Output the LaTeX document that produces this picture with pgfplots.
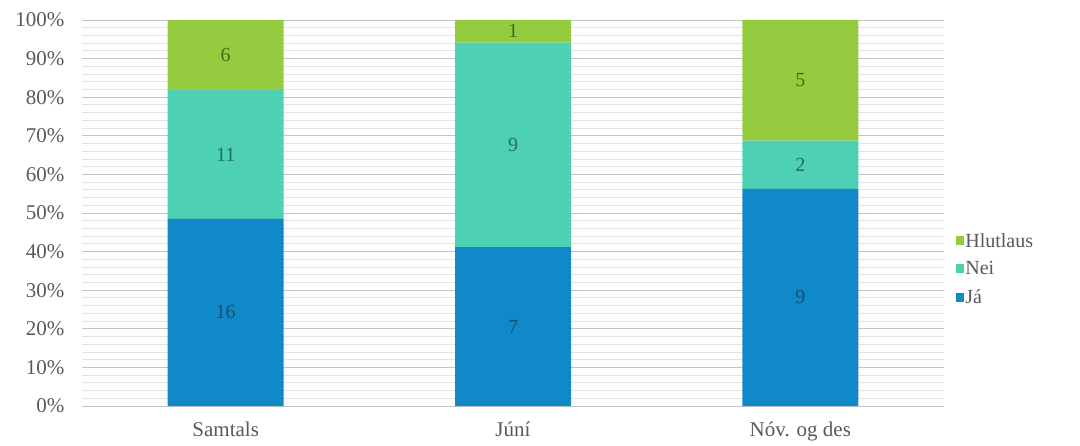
\documentclass[border=0pt]{standalone}
\usepackage{pgfplots}
\pgfplotsset{compat=1.18}
\usepackage{fontspec}
\setmainfont{Liberation Serif}
\definecolor{ja}{HTML}{1188C8}
\definecolor{nei}{HTML}{4DD0B4}
\definecolor{hl}{HTML}{95CB3E}
\definecolor{txt}{HTML}{595959}
\definecolor{jat}{HTML}{17506F}
\definecolor{neit}{HTML}{236F60}
\definecolor{hlt}{HTML}{3F6E1C}
\definecolor{majg}{HTML}{C4C4C4}
\definecolor{ming}{HTML}{E3E3E3}
\pgfplotsset{base/.style={
  scale only axis, width=862pt, height=386pt,
  xmin=-0.5, xmax=2.5, ymin=0, ymax=100,
}}
\begin{document}
\begin{tikzpicture}
\useasboundingbox (-82pt,-39pt) rectangle (998pt,406pt);
\begin{axis}[base,
  ybar stacked, bar width=116pt,
  axis lines*=left, axis line style={draw=none},
  xtick=data, xticklabels={Samtals, Júní, Nóv. og des},
  ytick distance=10, minor y tick num=4,
  ymajorgrids, yminorgrids,
  major grid style={draw=majg, line width=0.9pt},
  minor grid style={draw=ming, line width=0.9pt},
  tick style={draw=none},
  /pgf/number format/assume math mode=true,
  yticklabel={\pgfmathprintnumber{\tick}\%},
  ticklabel style={font=\fontsize{21}{24}\selectfont, text=txt},
  yticklabel style={xshift=-14pt},
  xticklabel style={yshift=-12pt},
  reverse legend,
  legend cell align=left,
  legend style={at={(1.01,0.355)}, anchor=west, draw=none, fill=none,
    font=\fontsize{20}{22}\selectfont, text=txt, row sep=9pt,
    nodes={inner xsep=1.5pt}},
  legend image code/.code={\fill[#1] (0pt,-4.5pt) rectangle (8pt,4.5pt);},
]
\addplot[fill=ja, draw=none] coordinates {(0,48.48) (1,41.18) (2,56.25)};
\addplot[fill=nei, draw=none] coordinates {(0,33.33) (1,52.94) (2,12.50)};
\addplot[fill=hl, draw=none] coordinates {(0,18.18) (1,5.88) (2,31.25)};
\legend{Já, Nei, Hlutlaus}
\end{axis}
\begin{axis}[base, hide axis,
  nodes near coords, point meta=explicit symbolic,
  every node near coord/.append style={anchor=center, font=\fontsize{20}{22}\selectfont},
]
\addplot[draw=none, mark=none, nodes near coords style={text=jat}] coordinates {(0,24.24)[16] (1,20.59)[7] (2,28.13)[9]};
\addplot[draw=none, mark=none, nodes near coords style={text=neit}] coordinates {(0,65.15)[11] (1,67.65)[9] (2,62.50)[2]};
\addplot[draw=none, mark=none, nodes near coords style={text=hlt}] coordinates {(0,90.91)[6] (1,97.06)[1] (2,84.38)[5]};
\end{axis}
\end{tikzpicture}
\end{document}
